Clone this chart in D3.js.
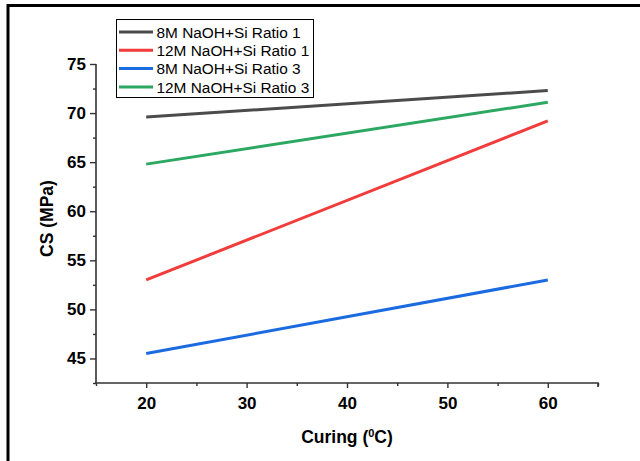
<!DOCTYPE html>
<html>
<head>
<meta charset="utf-8">
<script src="https://cdn.jsdelivr.net/npm/d3@7"></script>
<style>
  html, body { margin: 0; padding: 0; background: #fff; }
  svg { display: block; font-family: Arial, "Liberation Sans", sans-serif; }
</style>
</head>
<body>
<svg id="chart" width="640" height="461"></svg>
<script>
// Curing temperature (°C) on the x axis
const curingTemps = [20, 60];

// Compressive strength (MPa) per mix
const seriesNames = [
  "8M NaOH+Si Ratio 1",
  "12M NaOH+Si Ratio 1",
  "8M NaOH+Si Ratio 3",
  "12M NaOH+Si Ratio 3"
];
const cs8MRatio1 = [69.6, 72.3];
const cs12MRatio1 = [53.0, 69.2];
const cs8MRatio3 = [45.5, 53.0];
const cs12MRatio3 = [64.8, 71.1];
const seriesColors = ["#4b4b4b", "#f23b3b", "#1b6be0", "#2ca862"];

const xTicks = [20, 30, 40, 50, 60];
const yTicks = [45, 50, 55, 60, 65, 70, 75];

const allSeries = [cs8MRatio1, cs12MRatio1, cs8MRatio3, cs12MRatio3];

const svg = d3.select("#chart");

// outer frame (top and left edges)
svg.append("path")
  .attr("d", "M8,470 L8,5.5 L645,5.5")
  .attr("fill", "none").attr("stroke", "#000").attr("stroke-width", 3);

const plot = { left: 96, right: 598, top: 64, bottom: 383 };

const x = d3.scaleLinear().domain([15, 65]).range([plot.left, plot.right]);
const y = d3.scaleLinear().domain([42.5, 75]).range([plot.bottom, plot.top]);

// minor ticks
const xMinor = d3.range(15, 66, 5).filter(v => !xTicks.includes(v));
const yMinor = d3.range(42.5, 75, 2.5).filter(v => !yTicks.includes(v));

const axisColor = "#333";

const gx = svg.append("g").attr("transform", `translate(0,${plot.bottom})`);
gx.call(d3.axisBottom(x).tickValues(xMinor).tickSize(3).tickFormat(""));
const gxMajor = svg.append("g").attr("transform", `translate(0,${plot.bottom})`)
  .call(d3.axisBottom(x).tickValues(xTicks).tickSize(5).tickSizeOuter(0).tickPadding(9).tickFormat(d3.format("d")));
gxMajor.select(".domain").remove();
gx.select(".domain").attr("d", `M${plot.left},0.5V0H${plot.right}V4`);

const gy = svg.append("g").attr("transform", `translate(${plot.left},0)`);
gy.call(d3.axisLeft(y).tickValues(yMinor).tickSize(3).tickFormat(""));
gy.select(".domain").attr("d", `M0,${plot.top}V${plot.bottom}`);
const gyMajor = svg.append("g").attr("transform", `translate(${plot.left},0)`)
  .call(d3.axisLeft(y).tickValues(yTicks).tickSize(6).tickPadding(4).tickFormat(d3.format("d")));
gyMajor.select(".domain").remove();

svg.selectAll(".domain").attr("stroke", axisColor).attr("stroke-width", 1.6);
svg.selectAll(".tick line").attr("stroke", axisColor).attr("stroke-width", 1.4);
svg.selectAll(".tick text")
  .attr("fill", "#000")
  .style("font-size", "17px")
  .style("font-weight", "bold")
  .style("font-family", "Arial, 'Liberation Sans', sans-serif");

// axis titles
svg.append("text")
  .attr("x", (plot.left + plot.right) / 2)
  .attr("y", 443)
  .attr("text-anchor", "middle")
  .style("font-size", "17.5px").style("font-weight", "bold")
  .call(t => {
    t.append("tspan").text("Curing (");
    t.append("tspan").attr("baseline-shift", "super").style("font-size", "11px").text("0");
    t.append("tspan").text("C)");
  });

svg.append("text")
  .attr("transform", `translate(53,${(plot.top + plot.bottom) / 2 - 5}) rotate(-90)`)
  .attr("text-anchor", "middle")
  .style("font-size", "17.5px").style("font-weight", "bold")
  .text("CS (MPa)");

// data lines
const line = d3.line().x((d, i) => x(curingTemps[i])).y(d => y(d));
allSeries.forEach((vals, k) => {
  svg.append("path")
    .datum(vals)
    .attr("d", line)
    .attr("fill", "none")
    .attr("stroke", seriesColors[k])
    .attr("stroke-width", 3);
});

// legend
const legend = svg.append("g");
legend.append("rect")
  .attr("x", 116.5).attr("y", 19.5).attr("width", 197).attr("height", 78)
  .attr("fill", "#fff").attr("stroke", "#000").attr("stroke-width", 1);
seriesNames.forEach((name, k) => {
  const cy = 32 + k * 18.3;
  legend.append("line")
    .attr("x1", 119).attr("x2", 153).attr("y1", cy).attr("y2", cy)
    .attr("stroke", seriesColors[k]).attr("stroke-width", 3);
  legend.append("text")
    .attr("x", 156.5).attr("y", cy + 5.6)
    .style("font-size", "15.4px")
    .attr("fill", "#000")
    .text(name);
});
</script>
</body>
</html>
